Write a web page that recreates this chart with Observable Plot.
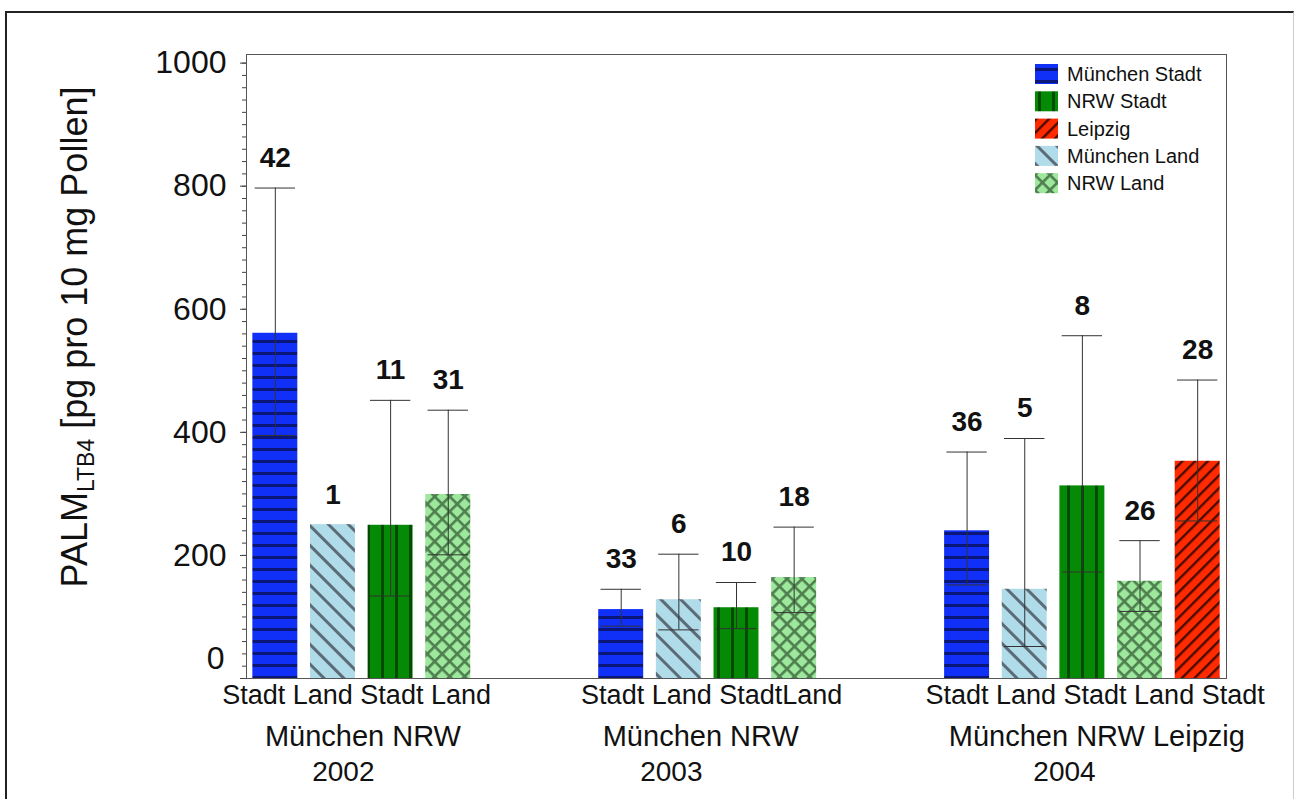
<!DOCTYPE html>
<html><head><meta charset="utf-8">
<script src="https://cdn.jsdelivr.net/npm/d3@7"></script>
<script src="https://cdn.jsdelivr.net/npm/@observablehq/plot@0.6"></script>
<style>
html,body{margin:0;padding:0;background:#fff;}
#wrap{position:relative;width:1296px;height:799px;overflow:hidden;font-family:"Liberation Sans",Arial,sans-serif;}
#wrap svg{position:absolute;left:0;top:0;}
#border{position:absolute;left:5px;top:11px;width:1286px;height:820px;border-left:2px solid #222;border-top:2px solid #222;border-right:1px solid #ccc;pointer-events:none;}
</style></head><body><div id="wrap"></div>
<script>
// ---- data ----
const years = ["2002", "2003", "2004"];
const seriesNames = ["München Stadt", "München Land", "NRW Stadt", "NRW Land", "Leipzig"];
const legendOrder = ["München Stadt", "NRW Stadt", "Leipzig", "München Land", "NRW Land"];

const mean2002 = [561, 250, 249, 299, null];
const upper2002 = [797, null, 452, 436, null];
const lower2002 = [395, null, 134, 201, null];
const n2002 = ["42", "1", "11", "31", null];

const mean2003 = [112, 128, 115, 164, null];
const upper2003 = [145, 202, 156, 246, null];
const lower2003 = [85, 79, 81, 107, null];
const n2003 = ["33", "6", "10", "18", null];

const mean2004 = [240, 145, 313, 158, 353];
const upper2004 = [368, 390, 557, 224, 485];
const lower2004 = [152, 52, 173, 109, 256];
const n2004 = ["36", "5", "8", "26", "28"];

const row1Labels = ["Stadt Land Stadt Land", "Stadt Land StadtLand", "Stadt Land Stadt Land Stadt"];
const row2Labels = ["München NRW", "München NRW", "München NRW Leipzig"];
const row3Labels = years;

const yMajorTicks = [0, 200, 400, 600, 800, 1000];

// ---- build table ----
const means = [mean2002, mean2003, mean2004];
const uppers = [upper2002, upper2003, upper2004];
const lowers = [lower2002, lower2003, lower2004];
const ns = [n2002, n2003, n2004];
const rows = [];
years.forEach((yr, gi) => {
  seriesNames.forEach((s, si) => {
    if (means[gi][si] == null) return;
    rows.push({year: yr, series: s, slot: gi * 6 + si, mean: means[gi][si],
      upper: uppers[gi][si], lower: lowers[gi][si], n: ns[gi][si]});
  });
});
const errRows = rows.filter(d => d.upper != null);

const patId = {"München Stadt": "p-ms", "München Land": "p-ml", "NRW Stadt": "p-ns", "NRW Land": "p-nl", "Leipzig": "p-lp"};

// label layout (centre of each text line relative to the group's first slot)
const row1Off = [1.41, 1.57, 2.22];
const row2Off = [1.52, 1.38, 2.25];
const row3Off = [1.18, 0.87, 1.69];
const grp = (labels, off) => labels.map((t, i) => ({t, x: i * 6 + off[i]}));

const barHalf = 0.39, capHalf = 0.35;

const marks = [];
seriesNames.forEach(s => {
  marks.push(Plot.rectY(rows.filter(d => d.series === s), {
    x1: d => d.slot - barHalf, x2: d => d.slot + barHalf, y: "mean",
    fill: `url(#${patId[s]})`
  }));
});
marks.push(
  Plot.axisY({ticks: d3.range(0, 1001, 20), tickSize: 4, tickFormat: () => "", stroke: "#444"}),
  Plot.axisY({ticks: yMajorTicks, tickSize: 6, tickPadding: 14, fontSize: 32, fill: "#111",
    tickFormat: d => d === 0 ? "" : String(d), stroke: "#444", label: null}),
  Plot.text(["0"], {y: [0], text: d => d, frameAnchor: "left", textAnchor: "end", dx: -22, dy: -20, fontSize: 32, fill: "#111"}),
  Plot.frame({stroke: "#555"}),
  Plot.ruleX(errRows, {x: "slot", y1: "lower", y2: "upper", stroke: "#333", strokeWidth: 1}),
  Plot.ruleY(errRows, {y: "upper", x1: d => d.slot - capHalf, x2: d => d.slot + capHalf, stroke: "#333", strokeWidth: 1}),
  Plot.ruleY(errRows, {y: "lower", x1: d => d.slot - capHalf, x2: d => d.slot + capHalf, stroke: "#333", strokeWidth: 1}),
  Plot.text(rows, {x: "slot", y: d => Math.max(d.mean, d.upper ?? d.mean), text: "n", dy: -30,
    fontSize: 28, fontWeight: "bold", fill: "#111"}),
  Plot.text(grp(row1Labels, row1Off), {x: "x", text: "t", frameAnchor: "bottom", dy: 25, fontSize: 27, fill: "#111"}),
  Plot.text(grp(row2Labels, row2Off), {x: "x", text: "t", frameAnchor: "bottom", dy: 67, fontSize: 29, fill: "#111"}),
  Plot.text(grp(row3Labels, row3Off), {x: "x", text: "t", frameAnchor: "bottom", dy: 102, fontSize: 28, fill: "#111"})
);

const chart = Plot.plot({
  width: 1296, height: 799,
  marginLeft: 246, marginRight: 70, marginTop: 54, marginBottom: 121,
  style: {fontFamily: "'Liberation Sans', Arial, sans-serif", background: "transparent", overflow: "visible"},
  x: {domain: [-0.5, 16.5], axis: null},
  y: {domain: [0, 1014], axis: null},
  marks
});

const svg = d3.select(chart);
const defs = svg.insert("defs", ":first-child");
function pattern(id, bg, size, rot) {
  const p = defs.append("pattern").attr("id", id).attr("patternUnits", "userSpaceOnUse")
    .attr("width", size).attr("height", size);
  if (rot) p.attr("patternTransform", `rotate(${rot})`);
  p.append("rect").attr("width", size).attr("height", size).attr("fill", bg);
  return p;
}
// München Stadt: blue, horizontal navy stripes
let p = pattern("p-ms", "#1030f8", 12, 0);
p.append("rect").attr("y", 4).attr("width", 12).attr("height", 3).attr("fill", "#0a1678");
// München Land: light blue, "\" slate stripes
p = pattern("p-ml", "#b0dbe8", 14, -45);
p.append("rect").attr("x", 0).attr("width", 3).attr("height", 14).attr("fill", "#5c6b78");
// NRW Stadt: green, vertical dark stripes
p = pattern("p-ns", "#058a05", 14, 0);
p.append("rect").attr("x", 3).attr("width", 3).attr("height", 14).attr("fill", "#034a03");
// NRW Land: light green, crosshatch
p = pattern("p-nl", "#9de89d", 10.6, 45);
p.append("rect").attr("x", 0).attr("width", 2.6).attr("height", 10.6).attr("fill", "#4f7f4f");
p.append("rect").attr("y", 0).attr("width", 10.6).attr("height", 2.6).attr("fill", "#4f7f4f");
// Leipzig: red, "/" dark stripes
p = pattern("p-lp", "#ff2a00", 9, 45);
p.append("rect").attr("x", 0).attr("width", 2.4).attr("height", 9).attr("fill", "#4a0c00");

// y-axis title with subscript
const title = svg.append("text")
  .attr("transform", "translate(87,337) rotate(-90)")
  .attr("text-anchor", "middle").attr("font-size", 36).attr("fill", "#111");
title.append("tspan").text("PALM");
title.append("tspan").attr("font-size", 23).attr("dy", 7).text("LTB4");
title.append("tspan").attr("dy", -7).text(" [pg pro 10 mg Pollen]");

// legend
const lg = svg.append("g").attr("transform", "translate(1035,64)");
legendOrder.forEach((s, i) => {
  const g = lg.append("g").attr("transform", `translate(0,${i * 27.3})`);
  g.append("rect").attr("width", 23).attr("height", 20).attr("fill", `url(#${patId[s]})`);
  g.append("text").attr("x", 32).attr("y", 10).attr("dy", "0.35em")
    .attr("text-anchor", "start").attr("font-size", 20).attr("fill", "#111").text(s);
});

const wrap = document.getElementById("wrap");
wrap.appendChild(chart);
const border = document.createElement("div");
border.id = "border";
wrap.appendChild(border);
</script>
</body></html>
